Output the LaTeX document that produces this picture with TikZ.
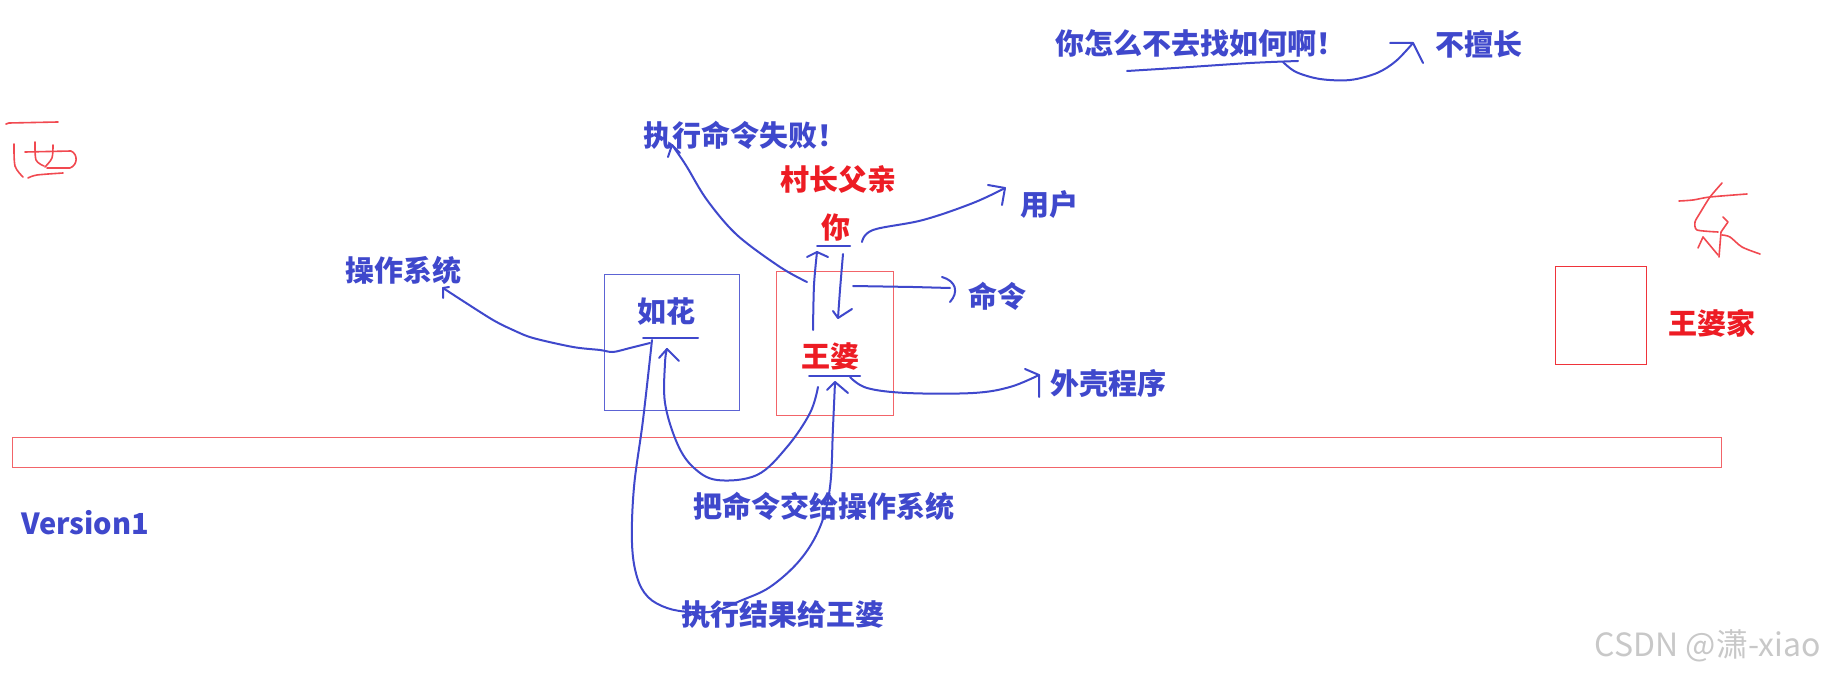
\documentclass[tikz,border=0pt]{standalone}
\usepackage{fontspec}
\setmainfont{Noto Sans CJK SC}
\definecolor{ind}{RGB}{63,72,204}
\definecolor{prd}{RGB}{237,28,36}
\definecolor{lrd}{RGB}{242,100,105}
\definecolor{wmk}{RGB}{200,200,200}
\begin{document}
\begin{tikzpicture}[x=1pt,y=-1pt,
  ink/.style={draw=ind,line width=2pt,line cap=round,line join=round},
  hand/.style={draw=prd!80,line width=1.6pt,line cap=round,line join=round},
  bt/.style={font=\fontsize{29}{31}\selectfont\bfseries,text=ind,inner sep=0pt,anchor=west},
  rt/.style={bt,text=prd},
  framered/.style={draw=lrd,line width=0.9pt},
  frameblue/.style={draw=ind!85,line width=0.9pt}]
\useasboundingbox[fill=white] (0,0) rectangle (1823,679);

% frames
\draw[frameblue] (604,274) rectangle (739,410);
\draw[framered] (776,271) rectangle (893,415);
\draw[framered,draw=prd!90] (1555,266) rectangle (1646,364);
\draw[framered] (12,437) rectangle (1721,467);

% handwritten 西
\draw[hand] (6,124) -- (9,123) -- (58,122);
\draw[hand] plot[smooth] coordinates {(14,144) (15,166) (23,177)};
\draw[hand] plot[smooth] coordinates {(35,142) (36,160) (44,166)};
\draw[hand] plot[smooth] coordinates {(53,145) (52,158) (45,167)};
\draw[hand] (25,152) -- (71,151) .. controls (78,154) and (78,165) .. (70,168) -- (47,168);
\draw[hand] plot[smooth] coordinates {(28,178) (37,175) (63,173)};

% handwritten 东
\draw[hand] plot[smooth] coordinates {(1679,201) (1693,200) (1710,197) (1747,194)};
\draw[hand] plot[smooth,tension=0.4] coordinates {(1722,183) (1710,197) (1700,213) (1695,222) (1697,230) (1718,232)};
\draw[hand] (1723,217) -- (1728,222) -- (1721,232) -- (1719,257);
\draw[hand] (1703,237) -- (1698,248);
\draw[hand] (1703,237) -- (1718,255);
\draw[hand] plot[smooth] coordinates {(1722,235) (1730,237) (1742,247) (1760,254)};

% texts
\node[bt] (ask) at (1055,43) {你怎么不去找如何啊！};
\node[bt] (bad) at (1435,44) {不擅长};
\node[bt] (fail) at (643,135) {执行命令失败！};
\node[rt] (father) at (780,179) {村长父亲};
\node[rt] (you) at (821,228) {你};
\node[bt] (user) at (1020,205) {用户};
\node[bt] (os) at (345,270) {操作系统};
\node[bt] (ruhua) at (637,312) {如花};
\node[bt] (cmd) at (968,296) {命令};
\node[rt] (wp) at (801,356) {王婆};
\node[bt] (shell) at (1050,383) {外壳程序};
\node[rt] (home) at (1668,323) {王婆家};
\node[bt] (v1) at (21,523) {Version1};
\node[bt] (give) at (693,506) {把命令交给操作系统};
\node[bt] (result) at (681,615) {执行结果给王婆};
\node[font=\fontsize{32}{34}\selectfont,text=wmk,inner sep=0pt,anchor=east] (wm) at (1821,646) {CSDN @潇-xiao};

% underlines
\coordinate (askL) at (1127,71);
\coordinate (askR) at (1298,61);
\coordinate (youL) at (817,246);
\coordinate (youR) at (850,246);
\coordinate (ruL) at (643,338);
\coordinate (ruR) at (698,338);
\coordinate (wpL) at (809,376);
\coordinate (wpR) at (860,376);
\draw[ink] plot[smooth] coordinates {(askL) (1175,68) (1250,63) (askR)};
\draw[ink] (youL) -- (youR);
\draw[ink] (ruL) -- (ruR);
\draw[ink] (wpL) -- (wpR);

% connector: 你怎么... -> 不擅长
\coordinate (tipBad) at (1413,43);
\draw[ink] plot[smooth,tension=0.55] coordinates {(1283,62) (1296,72) (1320,79) (1350,80) (1377,73) (1396,61) (tipBad)};
\draw[ink] (tipBad) ++(-23,0) -- (tipBad) -- ++(10,20);

% connector: 王婆 box -> 执行命令失败！
\coordinate (tipFail) at (672,145);
\draw[ink] plot[smooth,tension=0.55] coordinates {(807,282) (780,267) (737,235) (707,200) (687,167) (677,152) (tipFail)};
\draw[ink] (tipFail) ++(-4,12) -- (tipFail) -- ++(8,8);

% 王婆 -> 你 (up)
\coordinate (tipYou) at (817,252);
\draw[ink] plot[smooth] coordinates {(813,330) (814,285) (tipYou)};
\draw[ink] (tipYou) ++(-10,5) -- (tipYou) -- ++(11,5);

% 你 -> 王婆 (down)
\coordinate (tipDown) at (838,318);
\draw[ink] plot[smooth] coordinates {(843,254) (840,290) (tipDown)};
\draw[ink] (tipDown) ++(-5,-7) -- (tipDown) -- ++(14,-9);

% 你 -> 用户
\coordinate (tipUser) at (1005,188);
\draw[ink] plot[smooth,tension=0.6] coordinates {(862,242) (873,230) (923,220) (973,203) (tipUser)};
\draw[ink] (tipUser) ++(-17,-3) -- (tipUser) -- ++(-3,17);

% -> 命令
\coordinate (tipCmd) at (950,288);
\draw[ink] (853,286) -- (913,287) -- (tipCmd);
\draw[ink] (942,277) .. controls (956,281) and (959,292) .. (950,302);

% 王婆 -> 外壳程序
\coordinate (tipShell) at (1039,375);
\draw[ink] plot[smooth,tension=0.6] coordinates {(850,377) (867,388) (907,393) (973,393) (1010,387) (tipShell)};
\draw[ink] (1025,369) -- (tipShell) -- (1039,397);

% 如花 -> 操作系统
\coordinate (tipOs) at (443,288);
\draw[ink] plot[smooth,tension=0.5] coordinates {(650,343) (630,348) (613,352) (600,350) (573,347) (533,338) (513,330) (493,320) (463,301) (tipOs)};
\draw[ink] (tipOs) ++(0,10) -- (tipOs) -- ++(6,-1);

% 王婆 -> 如花 (把命令交给操作系统)
\coordinate (tipRu) at (667,349);
\draw[ink] plot[smooth,tension=0.6] coordinates {(818,387) (810,413) (787,447) (757,475) (717,480) (693,467) (677,443) (665,403) (665,363) (tipRu)};
\draw[ink] (tipRu) ++(-8,9) -- (tipRu) -- ++(12,12);

% 如花 -> 王婆 (执行结果给王婆)
\coordinate (tipWp) at (835,382);
\draw[ink] plot[smooth,tension=0.6] coordinates {(652,340) (643,420) (634,487) (632,543) (637,577) (648,597) (667,608) (690,612) (715,611) (740,601) (770,587) (800,560) (820,527) (830,487) (833,427) (tipWp)};
\draw[ink] (tipWp) ++(-8,8) -- (tipWp) -- ++(13,11);

\end{tikzpicture}
\end{document}
